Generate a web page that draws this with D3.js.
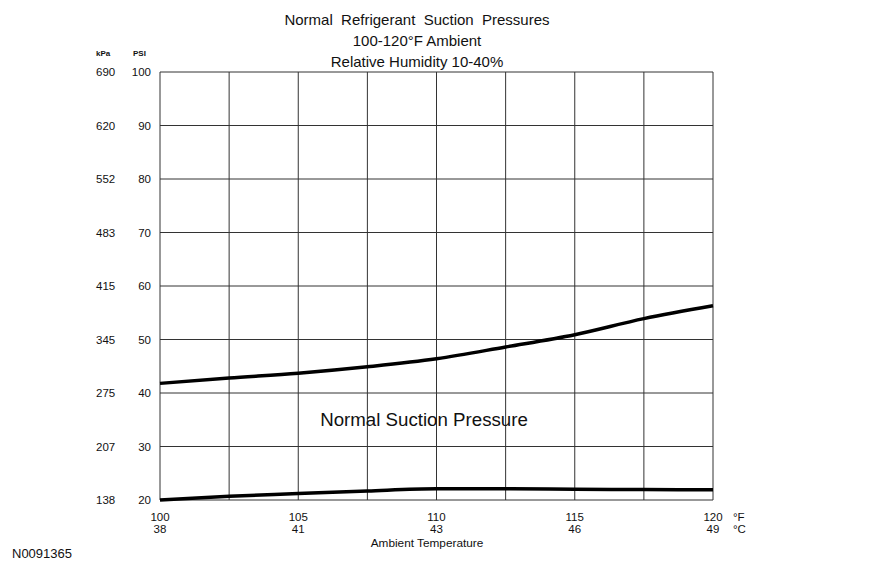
<!DOCTYPE html>
<html>
<head>
<meta charset="utf-8">
<script src="https://cdn.jsdelivr.net/npm/d3@7"></script>
<style>
  body { margin: 0; background: #fff; }
  text { font-family: "Liberation Sans", Arial, sans-serif; fill: #111; }
</style>
</head>
<body>
<div id="chart"></div>
<script>
// Chart values
const titleLines = ["Normal  Refrigerant  Suction  Pressures", "100-120\u00B0F Ambient", "Relative Humidity 10-40%"];
const psiTicks = [20, 30, 40, 50, 60, 70, 80, 90, 100];
const kpaTicks = [138, 207, 275, 345, 415, 483, 552, 620, 690];
const fTicks = [100, 105, 110, 115, 120];
const cTicks = [38, 41, 43, 46, 49];
const gridF = [100, 102.5, 105, 107.5, 110, 112.5, 115, 117.5, 120];

// suction pressure band (PSI) at each grid temperature
const tempF = [100, 102.5, 105, 107.5, 110, 112.5, 115, 117.5, 120];
const upperPsi = [41.8, 42.8, 43.7, 44.9, 46.4, 48.6, 50.9, 53.9, 56.3];
const lowerPsi = [20.0, 20.7, 21.2, 21.7, 22.1, 22.1, 22.0, 21.95, 21.9];

const width = 870, height = 568;
const margin = {top: 72, right: 157, bottom: 68, left: 160};

const svg = d3.select("#chart").append("svg")
    .attr("width", width)
    .attr("height", height);

// Scales
const x = d3.scaleLinear().domain([100, 120]).range([margin.left, width - margin.right]);
const y = d3.scaleLinear().domain([20, 100]).range([height - margin.bottom, margin.top]);

// Title
svg.append("g").selectAll("text")
    .data(titleLines)
    .enter().append("text")
    .attr("x", 417)
    .attr("y", (d, i) => 25 + i * 21)
    .attr("text-anchor", "middle")
    .style("font-size", "15px")
    .style("white-space", "pre")
    .attr("xml:space", "preserve")
    .text(d => d);

// Grid
const grid = svg.append("g").attr("class", "grid");

grid.selectAll(".hline")
    .data(psiTicks)
    .enter().append("line")
    .attr("x1", x(100)).attr("x2", x(120))
    .attr("y1", d => y(d)).attr("y2", d => y(d))
    .style("stroke", "#333")
    .style("stroke-width", 1);

grid.selectAll(".vline")
    .data(gridF)
    .enter().append("line")
    .attr("x1", d => x(d)).attr("x2", d => x(d))
    .attr("y1", y(20)).attr("y2", y(100))
    .style("stroke", "#333")
    .style("stroke-width", 1);

// Left axes: kPa and PSI columns
svg.append("text").attr("x", 96).attr("y", 56)
    .style("font-size", "8px").style("font-weight", "bold").text("kPa");
svg.append("text").attr("x", 133).attr("y", 56)
    .style("font-size", "8px").style("font-weight", "bold").text("PSI");

svg.append("g").selectAll("text")
    .data(psiTicks)
    .enter().append("text")
    .attr("x", 151)
    .attr("y", d => y(d))
    .attr("dy", "0.35em")
    .attr("text-anchor", "end")
    .style("font-size", "11.5px")
    .text(d => d);

svg.append("g").selectAll("text")
    .data(kpaTicks)
    .enter().append("text")
    .attr("x", 96)
    .attr("y", (d, i) => y(psiTicks[i]))
    .attr("dy", "0.35em")
    .style("font-size", "11.5px")
    .text(d => d);

// Bottom axis: °F and °C rows
svg.append("g").selectAll("text")
    .data(fTicks)
    .enter().append("text")
    .attr("x", d => x(d))
    .attr("y", 521)
    .attr("text-anchor", "middle")
    .style("font-size", "11.5px")
    .text(d => d);

svg.append("g").selectAll("text")
    .data(cTicks)
    .enter().append("text")
    .attr("x", (d, i) => x(fTicks[i]))
    .attr("y", 533)
    .attr("text-anchor", "middle")
    .style("font-size", "11.5px")
    .text(d => d);

svg.append("text").attr("x", 733).attr("y", 521).style("font-size", "11.5px").text("\u00B0F");
svg.append("text").attr("x", 733).attr("y", 533).style("font-size", "11.5px").text("\u00B0C");

svg.append("text")
    .attr("x", 427)
    .attr("y", 547)
    .attr("text-anchor", "middle")
    .style("font-size", "11.8px")
    .text("Ambient Temperature");

svg.append("text")
    .attr("x", 12)
    .attr("y", 558)
    .style("font-size", "13px")
    .text("N0091365");

// Pressure curves
const line = d3.line()
    .x((d, i) => x(tempF[i]))
    .y(d => y(d))
    .curve(d3.curveMonotoneX);

[upperPsi, lowerPsi].forEach(series => {
    svg.append("path")
        .datum(series)
        .attr("d", line)
        .style("fill", "none")
        .style("stroke", "#000")
        .style("stroke-width", 3.5);
});

// Band label
svg.append("text")
    .attr("x", 424)
    .attr("y", 426)
    .attr("text-anchor", "middle")
    .style("font-size", "18.7px")
    .text("Normal Suction Pressure");
</script>
</body>
</html>
